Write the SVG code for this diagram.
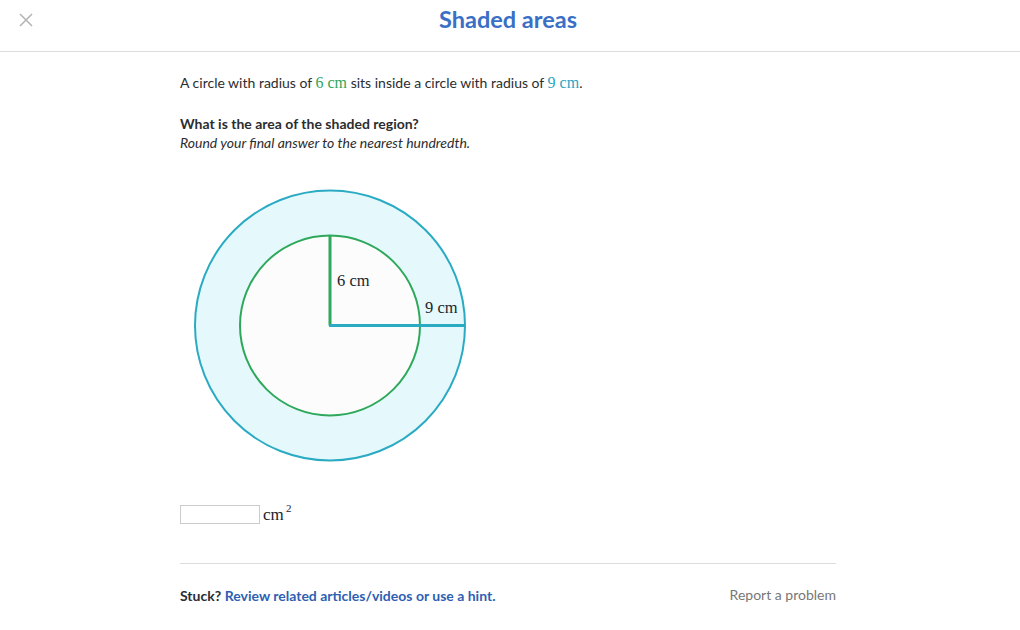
<svg xmlns="http://www.w3.org/2000/svg" width="1020" height="630" viewBox="0 0 1020 630">
<style>
.ui{font-family:Lato,"Liberation Sans",sans-serif;font-size:14px;fill:#2b2d30}
.m{font-family:"Liberation Serif","DejaVu Serif",serif}
.lbl{font-family:"Liberation Serif","DejaVu Serif",serif;font-size:16.5px;fill:#21242c}
</style>
<rect width="1020" height="630" fill="#ffffff"/>
<g id="header">
<path d="M20 14 L32 26 M32 14 L20 26" stroke="#b5b5b5" stroke-width="1.6" fill="none"/>
<text x="508" y="28" text-anchor="middle" style="font-family:Lato,'Liberation Sans',sans-serif;font-size:23.5px;font-weight:bold;fill:#3a6fc6">Shaded areas</text>
<line x1="0" y1="51.5" x2="1020" y2="51.5" stroke="#dcdcdc" stroke-width="1"/>
</g>
<g id="question">
<text x="180" y="88" class="ui">A circle with radius of <tspan class="m" font-size="16" style="fill:#2fa65a">6 cm</tspan> sits inside a circle with radius of <tspan class="m" font-size="16" style="fill:#2aa5c3">9 cm</tspan>.</text>
<text x="180" y="129" class="ui" font-weight="bold">What is the area of the shaded region?</text>
<text x="180" y="148" class="ui" font-style="italic">Round your final answer to the nearest hundredth.</text>
</g>
<g id="outer-circle">
<circle cx="330" cy="325.5" r="135" fill="#e5f9fc" stroke="#2aabc3" stroke-width="2"/>
</g>
<g id="inner-circle">
<circle cx="330" cy="325.5" r="90" fill="#fcfcfc" stroke="#2ea85b" stroke-width="2"/>
</g>
<g id="connectors">
<line x1="330" y1="235.5" x2="330" y2="325.5" stroke="#2ea85b" stroke-width="3"/>
<line x1="329" y1="325.5" x2="465" y2="325.5" stroke="#2aabc3" stroke-width="3"/>
</g>
<g id="labels">
<text x="337" y="286" class="lbl">6 cm</text>
<text x="425" y="313" class="lbl">9 cm</text>
</g>
<g id="answer">
<rect x="180.5" y="505.5" width="79" height="18" fill="#ffffff" stroke="#cccccc" stroke-width="1"/>
<text x="263" y="520" class="m" font-size="17" fill="#21242c">cm</text>
<text x="286" y="512" class="m" font-size="11" fill="#21242c">2</text>
</g>
<g id="footer">
<line x1="180" y1="563.5" x2="836" y2="563.5" stroke="#dcdcdc" stroke-width="1"/>
<text x="180" y="601" class="ui" font-size="14.2"><tspan font-weight="bold">Stuck?</tspan> <tspan style="fill:#2f5fb3" font-weight="bold">Review related articles/videos or use a hint.</tspan></text>
<text x="836" y="600" class="ui" text-anchor="end" style="fill:#777777">Report a problem</text>
</g>
</svg>
